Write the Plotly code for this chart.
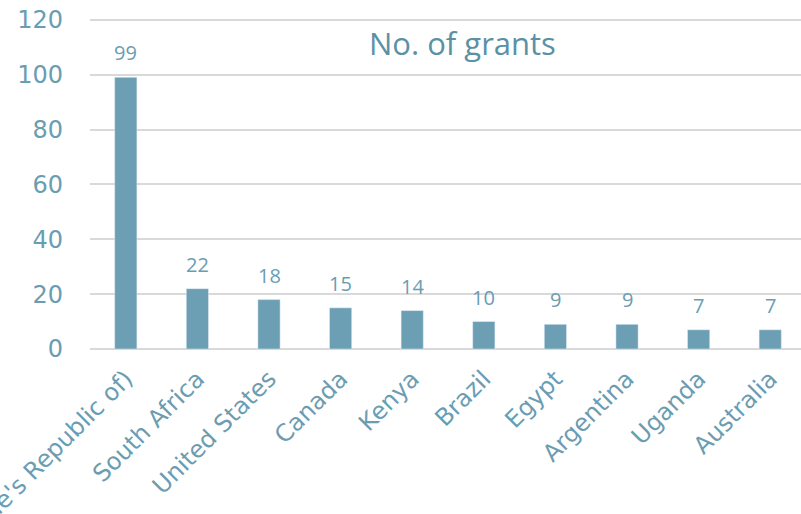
import plotly.graph_objects as go

countries = ["China (People's Republic of)", "South Africa", "United States", "Canada", "Kenya",
             "Brazil", "Egypt", "Argentina", "Uganda", "Australia"]
grants = [99, 22, 18, 15, 14, 10, 9, 9, 7, 7]

bar_color = "#6c9fb4"
text_color = "#6a9db2"

W, H = 801, 514
L, T, B = 90, 17, 165
pw, ph = W - L, H - T - B

fig = go.Figure()
fig.add_trace(go.Bar(x=countries, y=grants, marker_color=bar_color, width=0.31,
                     hoverinfo="x+y"))

for c, v in zip(countries, grants):
    fig.add_annotation(x=c, y=v, text=str(v), showarrow=False, yanchor="bottom",
                       yshift=9, font=dict(family="Open Sans", size=20, color=text_color))

fig.add_annotation(xref="paper", yref="paper", x=(462 - L) / pw, y=(H - B - 43) / ph,
                   xanchor="center", yanchor="middle", text="No. of grants",
                   showarrow=False, font=dict(family="Open Sans", size=31, color="#5b91a6"))

fig.update_layout(
    width=W, height=H,
    margin=dict(l=L, r=0, t=T, b=B, autoexpand=False),
    plot_bgcolor="white", paper_bgcolor="white",
    showlegend=False,
)

fig.update_xaxes(range=[-0.5, 9.43], tickangle=-45, showgrid=False, showline=False,
                 ticks="", ticklabelstandoff=10, automargin=False,
                 tickfont=dict(family="Verdana, DejaVu Sans, sans-serif", size=24, color=text_color))
fig.update_yaxes(range=[0, 121], tickvals=[0, 20, 40, 60, 80, 100, 120],
                 showgrid=True, gridcolor="#d9d9d9", gridwidth=1.5,
                 zeroline=True, zerolinecolor="#d9d9d9", zerolinewidth=1.5,
                 showline=False, ticks="", ticklabelstandoff=26, automargin=False,
                 ticklabeloverflow="allow",
                 tickfont=dict(family="Verdana, DejaVu Sans, sans-serif", size=24, color=text_color))

fig.write_html("out.html", config={"displayModeBar": False},
               post_script="document.body.style.margin='0';document.body.style.overflow='hidden';")
